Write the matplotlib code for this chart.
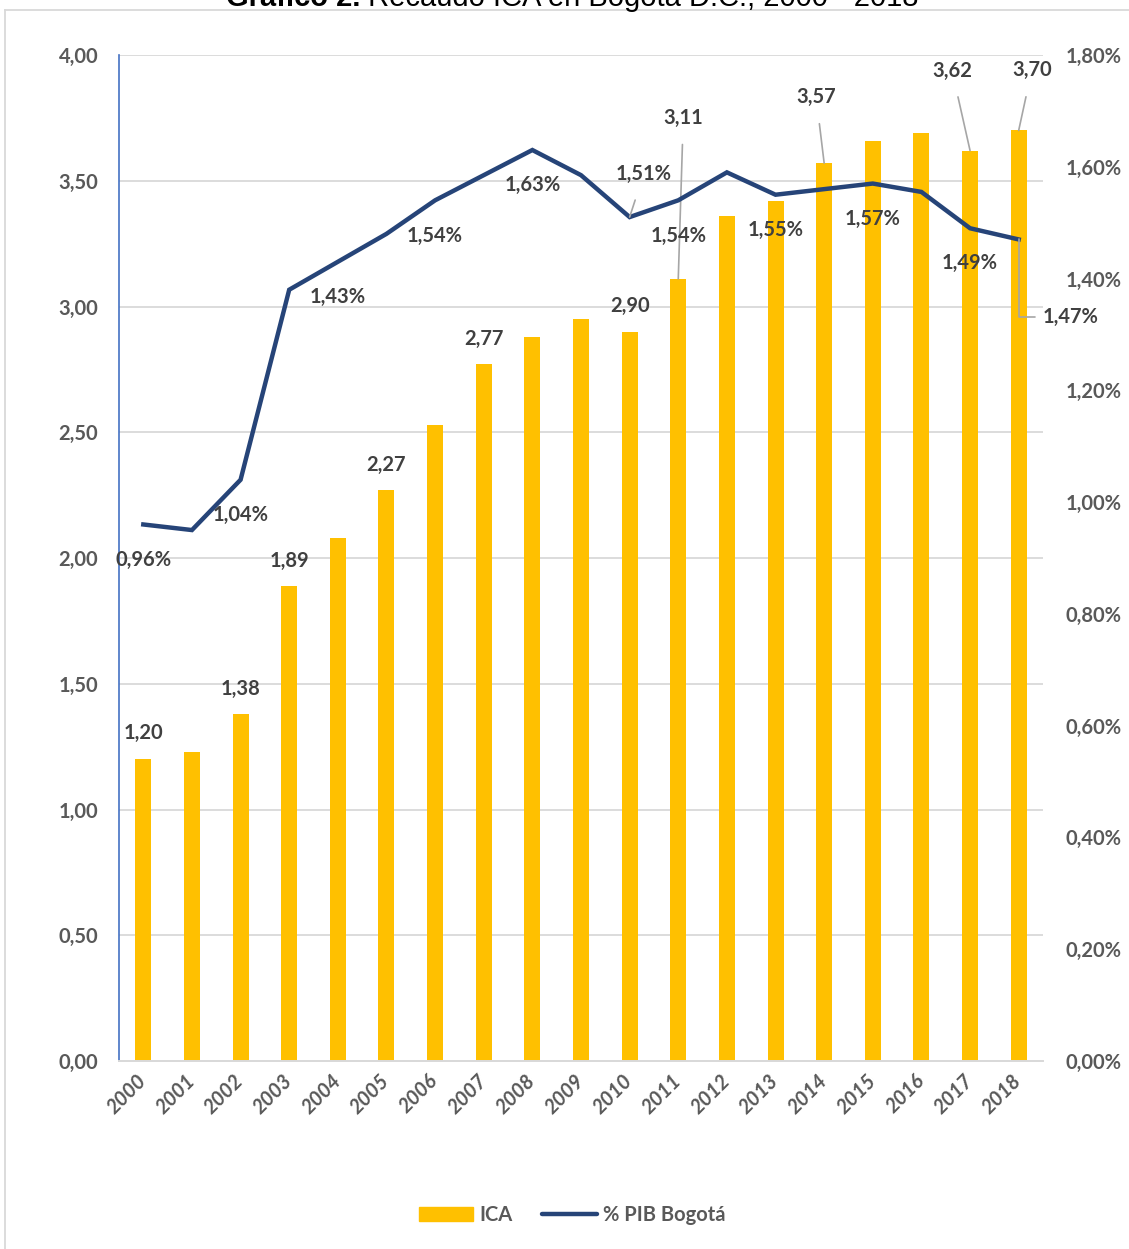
import numpy as np
import matplotlib.pyplot as plt
from matplotlib.lines import Line2D
from matplotlib.patches import Patch

plt.rcParams['font.family'] = ['Lato', 'DejaVu Sans']

# Datos
anios = [str(a) for a in range(2000, 2019)]
ica = [1.20, 1.23, 1.38, 1.89, 2.08, 2.27, 2.53, 2.77, 2.88, 2.95,
       2.90, 3.11, 3.36, 3.42, 3.57, 3.66, 3.69, 3.62, 3.70]
pib = [0.96, 0.95, 1.04, 1.38, 1.43, 1.48, 1.54, 1.585, 1.63, 1.585,
       1.51, 1.54, 1.59, 1.55, 1.56, 1.57, 1.555, 1.49, 1.47]

# etiquetas visibles: indice -> (dx, dy) en pixeles
etq_ica = {0: (0, 26), 2: (0, 25), 3: (0, 25), 5: (0, 25), 7: (0, 25), 10: (0, 26),
           11: (5, 161), 14: (-8, 66), 17: (-18, 80), 18: (13, 60)}
etq_pib = {0: (0, -36), 2: (0, -35), 4: (0, -35), 6: (0, -36), 8: (0, -35),
           10: (14, 43), 11: (0, -36), 13: (0, -35), 15: (0, -35), 17: (0, -35)}

gris_txt = '#595959'
gris_etq = '#404040'
amarillo = '#FFC000'
azul = '#264478'
tam = 14.5

fig = plt.figure(figsize=(11.29, 12.49), dpi=100)
ax1 = fig.add_axes([119/1129, 188/1249, 924/1129, 1006/1249])
ax2 = ax1.twinx()

x = np.arange(len(anios))
ax1.bar(x, ica, width=0.33, color=amarillo, zorder=2)
ax2.plot(x, pib, color=azul, lw=3.2, zorder=3, solid_joinstyle='miter')

ax1.set_xlim(-0.5, len(anios) - 0.5)
ax1.set_ylim(0, 4)
ax2.set_ylim(0, 1.8)
ax1.set_yticks(np.arange(0, 4.01, 0.5))
ax2.set_yticks(np.arange(0, 1.81, 0.2))
ax1.set_yticklabels([f'{v:.2f}'.replace('.', ',') for v in np.arange(0, 4.01, 0.5)])
ax2.set_yticklabels([f'{v:.2f}%'.replace('.', ',') for v in np.arange(0, 1.81, 0.2)])
ax1.set_xticks(x)
ax1.set_xticklabels(anios, rotation=45, ha='right', va='center', rotation_mode='anchor')

ax1.grid(axis='y', color='#D9D9D9', lw=1.3, zorder=0)
ax1.set_axisbelow(True)
for ax in (ax1, ax2):
    for s in ('top', 'right', 'left'):
        ax.spines[s].set_visible(False)
    ax.spines['bottom'].set_color('#D9D9D9')
    ax.spines['bottom'].set_linewidth(1.3)
ax1.spines['left'].set_visible(True)
ax1.spines['left'].set_color('#4472C4')
ax1.spines['left'].set_linewidth(1.2)

ax1.tick_params(axis='y', length=0, pad=15, labelsize=tam, labelcolor=gris_txt)
ax2.tick_params(axis='y', length=0, pad=16, labelsize=tam, labelcolor=gris_txt)
ax1.tick_params(axis='x', length=0, pad=12, labelsize=tam, labelcolor=gris_txt)
for lb in ax1.get_xticklabels() + ax1.get_yticklabels() + ax2.get_yticklabels():
    lb.set_fontweight('bold')
for lb in ax1.get_xticklabels():
    lb.set_fontstyle('italic')

flecha = dict(arrowstyle='-', color='#A6A6A6', lw=1.2, shrinkA=0, shrinkB=0)

for i, (dx, dy) in etq_ica.items():
    con_linea = dy > 40
    ax1.annotate(f'{ica[i]:.2f}'.replace('.', ','), (x[i], ica[i]),
                 xytext=(dx * 0.72, dy * 0.72), textcoords='offset points',
                 ha='center', va='center', fontsize=tam, fontweight='bold',
                 color=gris_etq, zorder=5,
                 arrowprops=dict(flecha, shrinkA=10) if con_linea else None)

for i, (dx, dy) in etq_pib.items():
    con_linea = i == 10
    ax2.annotate(f'{pib[i]:.2f}%'.replace('.', ','), (x[i], pib[i]),
                 xytext=(dx * 0.72, dy * 0.72), textcoords='offset points',
                 ha='center', va='center', fontsize=tam, fontweight='bold',
                 color=gris_etq, zorder=5,
                 arrowprops=dict(flecha, shrinkA=10) if con_linea else None)

# 1,47% con linea en codo
ax2.annotate('1,47%', (x[18], pib[18]), xytext=(1043, 932), textcoords='figure pixels',
             ha='left', va='center', fontsize=tam, fontweight='bold', color=gris_etq, zorder=5,
             arrowprops=dict(flecha, relpos=(0, 0.5), shrinkA=4,
                             connectionstyle='angle,angleA=180,angleB=90,rad=0'))

# leyenda
handles = [Patch(color=amarillo), Line2D([0], [0], color=azul, lw=3.2, solid_capstyle='round')]
leg = fig.legend(handles, ['ICA', '% PIB Bogotá'], loc='center', ncol=2,
                 bbox_to_anchor=(572/1129, 34/1249), frameon=False,
                 prop={'size': tam, 'weight': 'bold'}, handlelength=2.7,
                 handletextpad=0.3, columnspacing=1.5)
for t in leg.get_texts():
    t.set_color(gris_txt)

# titulo recortado (como en el original) y marco
fig.text(360/1129, 1 + 2/1249, 'Gráfico 2.', ha='right', va='center',
         fontsize=21, fontweight='bold', family='Liberation Sans', color='black')
fig.text(360/1129, 1 + 2/1249, ' Recaudo ICA en Bogotá D.C., 2000 - 2018', ha='left', va='center',
         fontsize=21, family='Liberation Sans', color='black')
fig.add_artist(Line2D([5/1129, 1], [1 - 10/1249, 1 - 10/1249], color='#D9D9D9', lw=1.3))
fig.add_artist(Line2D([5/1129, 5/1129], [0, 1 - 10/1249], color='#D9D9D9', lw=1.3))

fig.savefig('out.png', dpi=100)
